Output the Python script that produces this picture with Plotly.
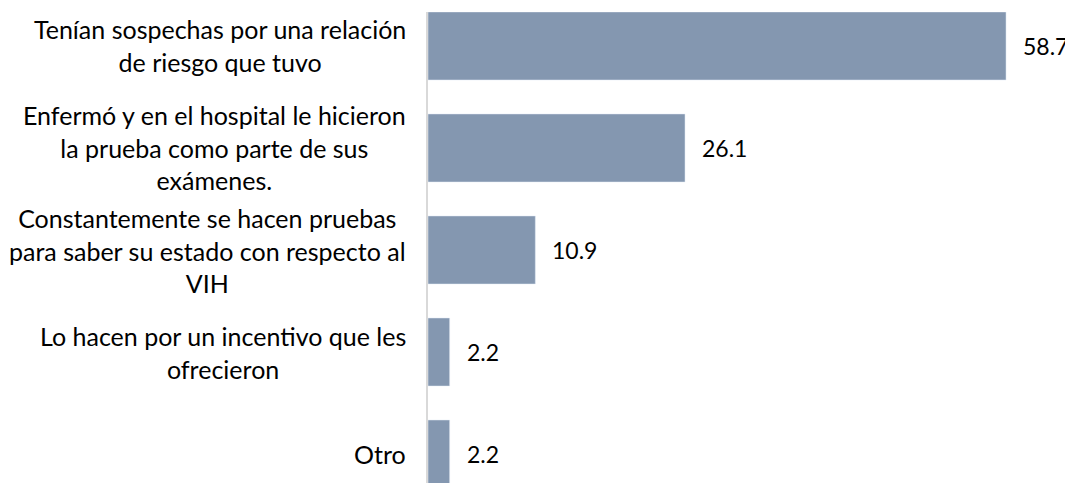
import plotly.graph_objects as go

# Motivos para hacerse la prueba del VIH (%)
categorias = [
    "Tenían sospechas por una relación<br>de riesgo que tuvo",
    "Enfermó y en el hospital le hicieron<br>la prueba como parte de sus<br>exámenes.",
    "Constantemente se hacen pruebas<br>para saber su estado con respecto al<br>VIH",
    "Lo hacen por un incentivo que les<br>ofrecieron",
    "Otro",
]
valores = [58.7, 26.1, 10.9, 2.2, 2.2]

fuente = "Lato"
color_barra = "#8497B0"

fig = go.Figure(
    go.Bar(
        x=valores,
        y=categorias,
        orientation="h",
        marker_color=color_barra,
        width=0.667,
        hoverinfo="x+y",
    )
)

# etiquetas del eje: centradas
for cat in categorias:
    fig.add_annotation(
        x=0, xref="paper", y=cat, yref="y",
        text=cat, showarrow=False,
        xanchor="right", xshift=-20, align="center",
        font=dict(family=fuente, size=25, color="#000000"),
    )

# valores al final de cada barra
for cat, v in zip(categorias, valores):
    fig.add_annotation(
        x=v, y=cat, text=f"{v}", showarrow=False,
        xanchor="left", xshift=15,
        font=dict(family=fuente, size=23, color="#000000"),
    )

fig.update_xaxes(range=[0, 65.5], visible=False)
fig.update_yaxes(
    type="category",
    categoryorder="array",
    categoryarray=categorias,
    range=[4.284, -0.333],
    showticklabels=False,
    showgrid=False,
    ticks="",
    showline=True,
    linecolor="#D9D9D9",
    linewidth=2,
)
# la página añade 8 px de margen: se compensa en los márgenes
fig.update_layout(
    width=1073, height=483,
    margin=dict(l=420, r=8, t=4, b=8),
    plot_bgcolor="white", paper_bgcolor="white",
    showlegend=False,
    font=dict(family=fuente),
)

fig.write_html("out.html")
